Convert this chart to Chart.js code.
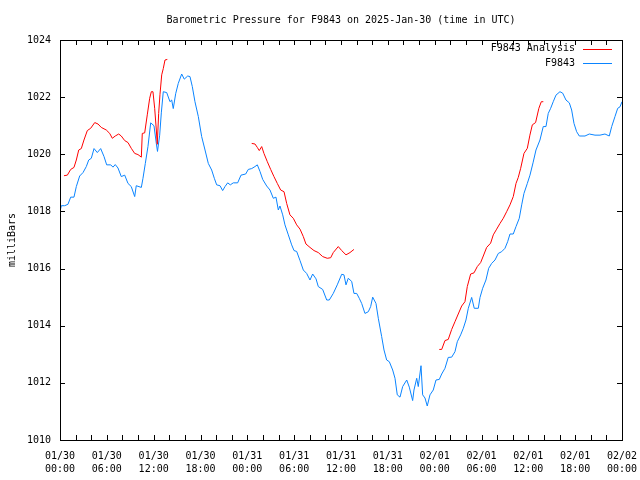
<!DOCTYPE html>
<html>
<head>
<meta charset="utf-8">
<script src="https://cdn.jsdelivr.net/npm/chart.js"></script>
<style>
  html, body { margin: 0; padding: 0; background: #fff; }
  #wrap { width: 640px; height: 480px; }
</style>
</head>
<body>
<div id="wrap"><canvas id="pressChart" width="640" height="480"></canvas></div>
<script>
// hours since 01/30 00:00 UTC and pressure in milliBars
var obsHours = [0, 0.17, 0.6, 1.02, 1.37, 1.79, 2.09, 2.52, 2.95, 3.37, 3.68, 4.01, 4.36, 4.78, 5.21, 5.64, 5.98, 6.5, 6.79, 7.08, 7.43, 7.85, 8.29, 8.71, 9.13, 9.57, 9.77, 10.42, 10.63, 10.93, 11.27, 11.62, 12.04, 12.34, 12.49, 12.77, 12.98, 13.23, 13.67, 14.09, 14.31, 14.51, 14.82, 15.15, 15.59, 15.92, 16.36, 16.65, 16.95, 17.29, 17.72, 18.15, 18.58, 19.0, 19.43, 19.77, 20.07, 20.5, 20.84, 21.14, 21.48, 21.82, 22.2, 22.76, 23.19, 23.79, 24.12, 24.56, 24.98, 25.28, 25.62, 25.97, 26.48, 26.9, 27.33, 27.67, 27.97, 28.18, 28.53, 28.82, 29.25, 29.68, 29.98, 30.32, 30.75, 31.17, 31.6, 32.03, 32.37, 32.8, 33.09, 33.65, 34.17, 34.5, 35.01, 35.52, 36.09, 36.38, 36.64, 36.93, 37.37, 37.66, 38.01, 38.34, 38.65, 39.07, 39.5, 39.8, 40.06, 40.48, 40.78, 41.21, 41.51, 41.85, 42.19, 42.62, 42.92, 43.21, 43.56, 43.9, 44.42, 44.75, 45.18, 45.35, 45.7, 45.9, 46.25, 46.46, 46.76, 47.05, 47.4, 47.82, 48.17, 48.59, 48.9, 49.32, 49.74, 50.18, 50.6, 50.9, 51.33, 51.67, 52.01, 52.31, 52.74, 53.07, 53.59, 53.81, 54.15, 54.57, 54.92, 55.3, 55.73, 56.15, 56.58, 57.01, 57.35, 57.65, 58.07, 58.42, 58.84, 59.15, 59.44, 59.87, 60.21, 60.6, 60.98, 61.49, 61.91, 62.26, 62.55, 62.86, 63.19, 63.54, 64.05, 64.4, 64.82, 65.25, 65.55, 65.85, 66.19, 66.53, 67.26, 67.81, 68.54, 69.18, 69.82, 70.37, 70.68, 71.1, 71.45, 71.74, 72];
var obsPress = [1018.0, 1018.2, 1018.2, 1018.25, 1018.5, 1018.5, 1018.87, 1019.24, 1019.36, 1019.57, 1019.8, 1019.86, 1020.2, 1020.06, 1020.2, 1019.92, 1019.63, 1019.63, 1019.55, 1019.64, 1019.52, 1019.22, 1019.27, 1018.98, 1018.87, 1018.52, 1018.9, 1018.84, 1019.16, 1019.68, 1020.27, 1021.1, 1021.0, 1020.38, 1020.1, 1020.67, 1021.45, 1022.19, 1022.16, 1021.84, 1021.9, 1021.6, 1022.12, 1022.48, 1022.81, 1022.63, 1022.74, 1022.72, 1022.37, 1021.84, 1021.32, 1020.62, 1020.15, 1019.68, 1019.45, 1019.16, 1018.93, 1018.9, 1018.73, 1018.87, 1019.0, 1018.93, 1019.0, 1019.0, 1019.27, 1019.31, 1019.47, 1019.5, 1019.57, 1019.63, 1019.4, 1019.12, 1018.89, 1018.75, 1018.46, 1018.5, 1018.05, 1018.19, 1017.88, 1017.53, 1017.18, 1016.83, 1016.63, 1016.6, 1016.28, 1015.95, 1015.83, 1015.6, 1015.81, 1015.64, 1015.37, 1015.27, 1014.9, 1014.9, 1015.13, 1015.43, 1015.8, 1015.78, 1015.43, 1015.66, 1015.55, 1015.13, 1015.13, 1014.96, 1014.78, 1014.43, 1014.49, 1014.67, 1015.0, 1014.78, 1014.26, 1013.62, 1013.15, 1012.8, 1012.74, 1012.45, 1012.16, 1011.58, 1011.5, 1011.87, 1012.1, 1011.85, 1011.38, 1011.75, 1012.16, 1011.87, 1012.6, 1011.58, 1011.47, 1011.19, 1011.58, 1011.75, 1012.1, 1012.12, 1012.31, 1012.51, 1012.89, 1012.9, 1013.09, 1013.44, 1013.68, 1013.91, 1014.2, 1014.61, 1014.99, 1014.61, 1014.61, 1014.99, 1015.31, 1015.6, 1016.01, 1016.18, 1016.3, 1016.53, 1016.59, 1016.71, 1016.94, 1017.21, 1017.21, 1017.47, 1017.76, 1018.23, 1018.63, 1018.98, 1019.27, 1019.7, 1020.15, 1020.5, 1020.97, 1020.97, 1021.43, 1021.61, 1021.84, 1022.07, 1022.19, 1022.14, 1021.9, 1021.8, 1021.55, 1021.08, 1020.79, 1020.64, 1020.64, 1020.71, 1020.67, 1020.67, 1020.71, 1020.64, 1020.97, 1021.32, 1021.61, 1021.66, 1021.84];

// analysis runs, null breaks the line between runs
var anaHours = [0.51, 0.94, 1.37, 1.79, 2.09, 2.4, 2.73, 3.07, 3.5, 3.93, 4.45, 4.87, 5.29, 5.93, 6.37, 6.7, 7.08, 7.52, 7.85, 8.29, 8.71, 9.13, 9.57, 9.99, 10.42, 10.54, 10.85, 11.18, 11.49, 11.7, 11.91, 12.13, 12.34, 12.46, 12.64, 12.81, 13.03, 13.23, 13.45, 13.75,
  19,
  24.56, 24.98, 25.28, 25.53, 25.84, 26.13, 26.56, 26.99, 27.41, 27.84, 28.27, 28.7, 29.04, 29.46, 29.89, 30.32, 30.75, 31.17, 31.51, 32.03, 32.54, 33.09, 33.65, 34.24, 34.68, 35.01, 35.65, 36.09, 36.64, 37.15, 37.66,
  43,
  48.59, 48.9, 49.32, 49.74, 50.18, 50.6, 51.02, 51.46, 51.88, 52.18, 52.61, 53.04, 53.46, 53.89, 54.23, 54.66, 55.17, 55.51, 55.94, 56.37, 56.79, 57.22, 57.65, 58.07, 58.42, 58.71, 59.02, 59.44, 59.87, 60.2, 60.51, 60.93, 61.35, 61.66, 61.92];
var anaPress = [1019.25, 1019.27, 1019.47, 1019.54, 1019.8, 1020.15, 1020.2, 1020.5, 1020.83, 1020.91, 1021.11, 1021.06, 1020.94, 1020.85, 1020.73, 1020.56, 1020.64, 1020.71, 1020.64, 1020.48, 1020.41, 1020.21, 1020.03, 1019.99, 1019.9, 1020.73, 1020.75, 1021.38, 1021.96, 1022.19, 1022.19, 1021.61, 1020.85, 1020.35, 1021.43, 1022.1, 1022.78, 1023.0, 1023.3, 1023.32,
  null,
  1020.38, 1020.36, 1020.24, 1020.13, 1020.27, 1020.03, 1019.74, 1019.47, 1019.22, 1018.98, 1018.75, 1018.69, 1018.28, 1017.88, 1017.76, 1017.53, 1017.38, 1017.12, 1016.86, 1016.74, 1016.63, 1016.56, 1016.42, 1016.36, 1016.38, 1016.56, 1016.77, 1016.63, 1016.48, 1016.56, 1016.67,
  null,
  1013.17, 1013.17, 1013.48, 1013.52, 1013.87, 1014.14, 1014.41, 1014.69, 1014.84, 1015.37, 1015.81, 1015.85, 1016.07, 1016.21, 1016.44, 1016.74, 1016.89, 1017.18, 1017.38, 1017.58, 1017.76, 1017.99, 1018.23, 1018.52, 1018.98, 1019.19, 1019.51, 1020.03, 1020.21, 1020.67, 1021.03, 1021.11, 1021.61, 1021.84, 1021.84];

var xTickLabels = [
  ['01/30', '00:00'], ['01/30', '06:00'], ['01/30', '12:00'], ['01/30', '18:00'],
  ['01/31', '00:00'], ['01/31', '06:00'], ['01/31', '12:00'], ['01/31', '18:00'],
  ['02/01', '00:00'], ['02/01', '06:00'], ['02/01', '12:00'], ['02/01', '18:00'],
  ['02/02', '00:00']
];

var FONT = '"DejaVu Sans Mono", "Liberation Mono", monospace';
var RED = '#ff0000';
var BLUE = '#0a84ff';

function toPoints(xs, ys) {
  return xs.map(function(x, i) { return { x: x, y: ys[i] }; });
}

// gnuplot style frame: box + inward ticks on all four sides, legend top right
var framePlugin = {
  id: 'frame',
  afterDatasetsDraw: function(chart) {
    var c = chart.ctx, a = chart.chartArea;
    var xs = chart.scales.x, ys = chart.scales.y;
    c.save();
    c.strokeStyle = '#000';
    c.lineWidth = 1;
    c.beginPath();
    for (var h = 0; h <= 72; h += 2) {
      var px = Math.round(xs.getPixelForValue(h)) + 0.5;
      c.moveTo(px, a.bottom); c.lineTo(px, a.bottom - 5);
      c.moveTo(px, a.top); c.lineTo(px, a.top + 5);
    }
    for (var p = 1010; p <= 1024; p += 2) {
      var py = Math.round(ys.getPixelForValue(p)) + 0.5;
      c.moveTo(a.left, py); c.lineTo(a.left + 5, py);
      c.moveTo(a.right, py); c.lineTo(a.right - 5, py);
    }
    c.stroke();
    c.strokeRect(Math.round(a.left) + 0.5, Math.round(a.top) + 0.5,
                 Math.round(a.right - a.left), Math.round(a.bottom - a.top));

    // legend
    c.font = '10px ' + FONT;
    c.textAlign = 'right';
    c.textBaseline = 'middle';
    var colors = [RED, BLUE];
    chart.data.datasets.forEach(function(ds, i) {
      var y = a.top + 8.5 + i * 14.5;
      c.fillStyle = '#000';
      c.fillText(ds.label, a.right - 47, y);
      c.strokeStyle = colors[i];
      c.beginPath();
      c.moveTo(a.right - 39, Math.round(y) + 0.5);
      c.lineTo(a.right - 10, Math.round(y) + 0.5);
      c.stroke();
    });
    c.restore();
  }
};

new Chart(document.getElementById('pressChart'), {
  type: 'line',
  data: {
    datasets: [
      {
        label: 'F9843 Analysis',
        data: toPoints(anaHours, anaPress),
        borderColor: RED,
        borderWidth: 1,
        pointRadius: 0,
        spanGaps: false,
        tension: 0
      },
      {
        label: 'F9843',
        data: toPoints(obsHours, obsPress),
        borderColor: BLUE,
        borderWidth: 1,
        pointRadius: 0,
        tension: 0
      }
    ]
  },
  options: {
    responsive: false,
    animation: false,
    devicePixelRatio: 1,
    layout: { padding: { left: 0, right: 18, top: 0, bottom: 0 } },
    plugins: {
      legend: { display: false },
      tooltip: { enabled: false },
      title: {
        display: true,
        fullSize: false,
        text: 'Barometric Pressure for F9843 on 2025-Jan-30 (time in UTC)',
        color: '#000',
        font: { family: FONT, size: 10, weight: 'normal', lineHeight: 1.2 },
        padding: { top: 14, bottom: 14 }
      }
    },
    scales: {
      x: {
        type: 'linear',
        min: 0,
        max: 72,
        grid: { display: false, drawTicks: false },
        border: { display: false },
        ticks: {
          stepSize: 6,
          autoSkip: false,
          maxRotation: 0,
          padding: 10,
          color: '#000',
          font: { family: FONT, size: 10, lineHeight: 1.3 },
          callback: function(v) { return xTickLabels[Math.round(v / 6)]; }
        },
        afterFit: function(s) { s.height = 40; s.paddingLeft = 0; s.paddingRight = 0; }
      },
      y: {
        min: 1010,
        max: 1024,
        grid: { display: false, drawTicks: false },
        border: { display: false },
        ticks: {
          stepSize: 2,
          padding: 9,
          color: '#000',
          font: { family: FONT, size: 10 },
          callback: function(v) { return String(v); }
        },
        title: {
          display: true,
          text: 'milliBars',
          color: '#000',
          font: { family: FONT, size: 10 },
          padding: { top: 6, bottom: 0 }
        },
        afterFit: function(s) { s.width = 60; s.paddingTop = 0; s.paddingBottom = 0; }
      }
    }
  },
  plugins: [framePlugin]
});
</script>
</body>
</html>
